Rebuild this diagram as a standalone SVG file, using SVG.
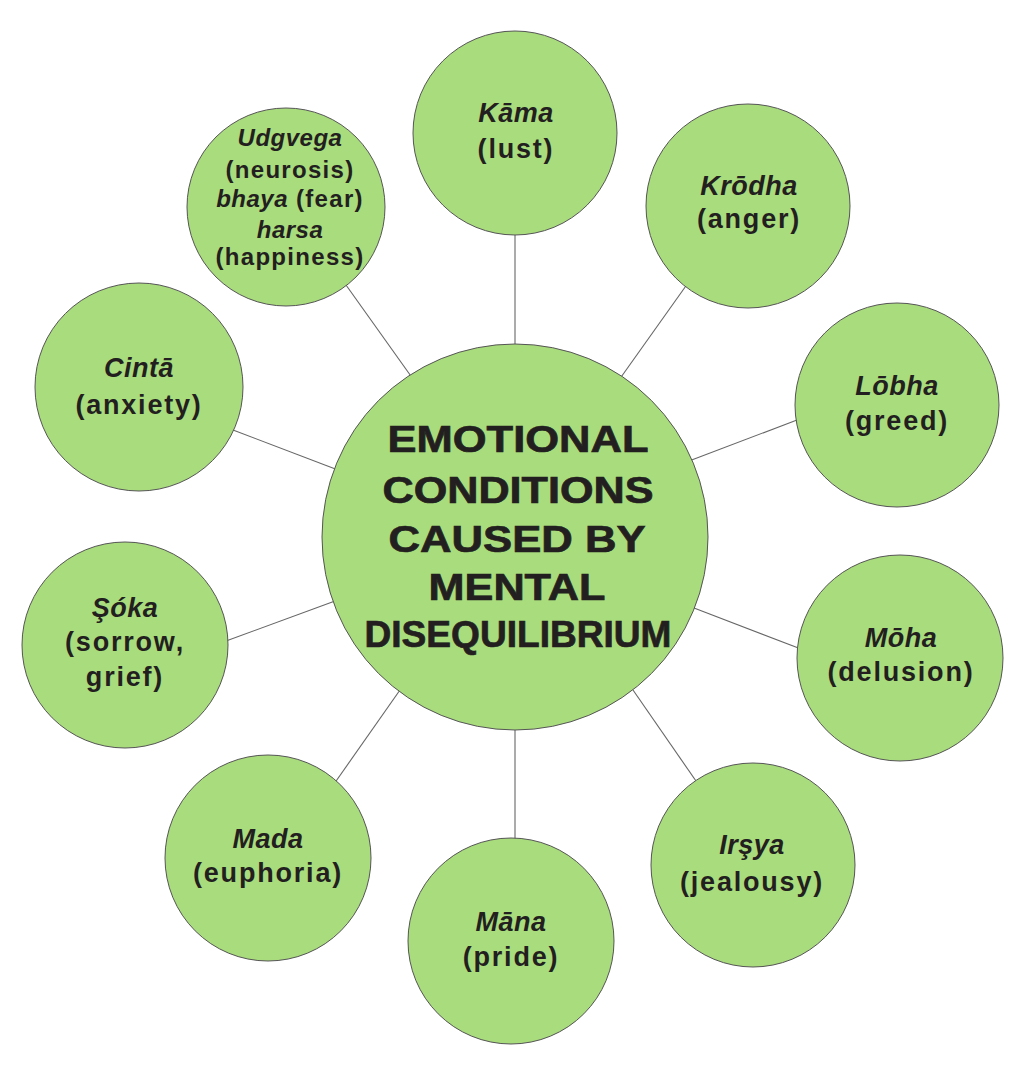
<svg xmlns="http://www.w3.org/2000/svg" width="1024" height="1070" viewBox="0 0 1024 1070">
<style>
.n{fill:#A9DC7C;stroke:#555;stroke-width:1}
.c{stroke:#666;stroke-width:1.1;fill:none}
text{font-family:"Liberation Sans",Arial,sans-serif;font-weight:bold;fill:#231F20;text-anchor:middle}
.t{font-size:27px;letter-spacing:1.8px}
.s{font-size:24px;letter-spacing:1.3px}
.i{font-style:italic;letter-spacing:0.5px}
.m{font-size:37px;stroke:#231F20;stroke-width:0.7}
</style>
<rect width="1024" height="1070" fill="#fff"/>
<g id="connectors">
<line class="c" x1="515" y1="230" x2="515" y2="348"/>
<line class="c" x1="688" y1="283" x2="619" y2="380"/>
<line class="c" x1="797" y1="420" x2="689" y2="461"/>
<line class="c" x1="801" y1="649" x2="694" y2="608"/>
<line class="c" x1="696" y1="781" x2="633" y2="690"/>
<line class="c" x1="515" y1="842" x2="515" y2="726"/>
<line class="c" x1="334" y1="784" x2="400" y2="690"/>
<line class="c" x1="226" y1="641" x2="335" y2="601"/>
<line class="c" x1="233" y1="430" x2="338" y2="470"/>
<line class="c" x1="346" y1="285" x2="413" y2="379"/>
</g>
<g id="center">
<circle class="n" cx="515" cy="537" r="193"/>
<text class="m" x="518" y="452" textLength="261" lengthAdjust="spacingAndGlyphs">EMOTIONAL</text>
<text class="m" x="518" y="503" textLength="271" lengthAdjust="spacingAndGlyphs">CONDITIONS</text>
<text class="m" x="517" y="552" textLength="257" lengthAdjust="spacingAndGlyphs">CAUSED BY</text>
<text class="m" x="517" y="600" textLength="177" lengthAdjust="spacingAndGlyphs">MENTAL</text>
<text class="m" x="518" y="647" textLength="307" lengthAdjust="spacingAndGlyphs">DISEQUILIBRIUM</text>
</g>
<g id="kama">
<circle class="n" cx="515" cy="133" r="102"/>
<text class="t i" x="516" y="122">Kāma</text>
<text class="t" x="516" y="158">(lust)</text>
</g>
<g id="krodha">
<circle class="n" cx="748" cy="206" r="102"/>
<text class="t i" x="749" y="195">Krōdha</text>
<text class="t" x="749" y="228">(anger)</text>
</g>
<g id="lobha">
<circle class="n" cx="897" cy="405" r="102"/>
<text class="t i" x="897" y="395">Lōbha</text>
<text class="t" x="897" y="430">(greed)</text>
</g>
<g id="moha">
<circle class="n" cx="900" cy="658" r="103"/>
<text class="t i" x="901" y="647">Mōha</text>
<text class="t" x="901" y="681">(delusion)</text>
</g>
<g id="irsya">
<circle class="n" cx="753" cy="865" r="102"/>
<text class="t i" x="752" y="854">Irşya</text>
<text class="t" x="752" y="891">(jealousy)</text>
</g>
<g id="mana">
<circle class="n" cx="511" cy="941" r="103"/>
<text class="t i" x="511" y="931">Māna</text>
<text class="t" x="511" y="966">(pride)</text>
</g>
<g id="mada">
<circle class="n" cx="268" cy="858" r="103"/>
<text class="t i" x="268" y="848">Mada</text>
<text class="t" x="268" y="882">(euphoria)</text>
</g>
<g id="soka">
<circle class="n" cx="125" cy="645" r="103"/>
<text class="t i" x="125" y="617">Şóka</text>
<text class="t" x="125" y="651">(sorrow,</text>
<text class="t" x="125" y="686">grief)</text>
</g>
<g id="cinta">
<circle class="n" cx="139" cy="387" r="104"/>
<text class="t i" x="139" y="377">Cintā</text>
<text class="t" x="139" y="414">(anxiety)</text>
</g>
<g id="udgvega">
<circle class="n" cx="286" cy="207" r="99"/>
<text class="s i" x="290" y="146">Udgvega</text>
<text class="s" x="290" y="178">(neurosis)</text>
<text class="s" x="290" y="207"><tspan class="i">bhaya</tspan> (fear)</text>
<text class="s i" x="290" y="238">harsa</text>
<text class="s" x="290" y="265">(happiness)</text>
</g>
</svg>
